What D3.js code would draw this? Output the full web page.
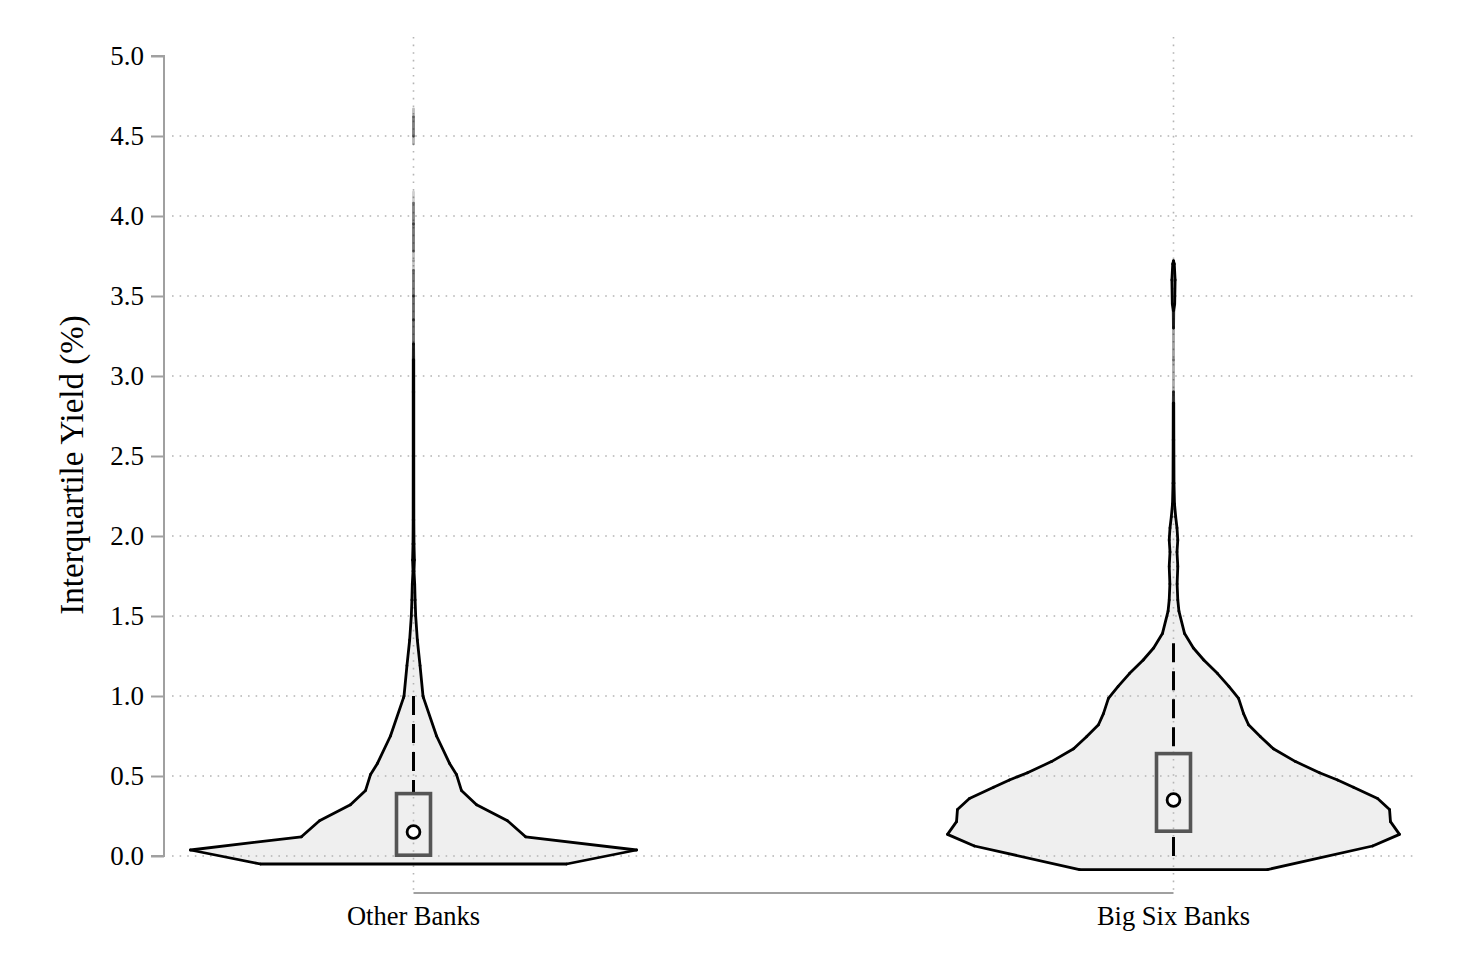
<!DOCTYPE html>
<html>
<head>
<meta charset="utf-8">
<script src="https://cdn.jsdelivr.net/npm/d3@7"></script>
<style>
  body { margin: 0; background: #fff; }
  svg { display: block; font-family: 'Liberation Serif', 'Times New Roman', serif; }
</style>
</head>
<body>
<div id="chart"></div>
<script>
// ---- data ----
const categories = ['Other Banks', 'Big Six Banks'];

// violin outlines: yield level and relative density (1 = widest point)
const otherYield = [-0.05, 0.0375, 0.12, 0.22, 0.32, 0.41, 0.51, 0.58, 0.75, 0.99, 1.0, 1.19, 1.35, 1.5, 1.6, 1.7, 1.78, 1.85, 1.95, 2.1, 2.5, 2.9, 3.1, 3.2, 3.35, 3.5, 3.66, 3.72, 3.78, 3.95, 4.08, 4.15, 4.45, 4.5, 4.62, 4.67];
const otherDensity = [0.677, 0.987, 0.496, 0.416, 0.279, 0.212, 0.190, 0.159, 0.102, 0.044, 0.042, 0.029, 0.017, 0.0097, 0.0071, 0.0053, 0.0022, 0.004, 0.0022, 0.0015, 0.0013, 0.0013, 0.0011, 0.00044, 0.00035, 0.00044, 0.00027, 0, 0.0003, 0.0004, 0.00022, 0, 0, 0.00035, 0.0003, 0];

const bigSixYield = [-0.085, 0.0625, 0.135, 0.215, 0.29, 0.36, 0.43, 0.475, 0.52, 0.59, 0.67, 0.745, 0.82, 0.89, 0.985, 1.06, 1.14, 1.225, 1.3, 1.39, 1.53, 1.6, 1.7, 1.81, 1.9, 1.975, 2.05, 2.12, 2.2, 2.33, 2.6, 2.83, 2.9, 3.1, 3.3, 3.41, 3.45, 3.6, 3.7, 3.72];
const bigSixDensity = [0.416, 0.881, 1.0, 0.960, 0.956, 0.903, 0.796, 0.726, 0.646, 0.540, 0.442, 0.385, 0.332, 0.310, 0.288, 0.245, 0.195, 0.134, 0.088, 0.049, 0.024, 0.019, 0.016, 0.019, 0.0155, 0.019, 0.0155, 0.0097, 0.0044, 0.0022, 0.0015, 0.0011, 0.00022, 0.00018, 0.00027, 0.0013, 0.0053, 0.0071, 0.0035, 0];

// box plot summaries
const q1 = [0.005, 0.155];
const medians = [0.15, 0.35];
const q3 = [0.39, 0.64];
const whiskerLow = [0.0, 0.0];
const whiskerHigh = [1.0, 1.33];

const yTicks = [0, 0.5, 1, 1.5, 2, 2.5, 3, 3.5, 4, 4.5, 5];
const yTitle = 'Interquartile Yield (%)';

// ---- layout ----
const width = 1458, height = 972;
const plot = { left: 172, right: 1418, top: 56, bottom: 856 };
const axisX = 164, axisY = 893;

const svg = d3.select('#chart').append('svg')
  .attr('width', width)
  .attr('height', height);

const y = d3.scaleLinear().domain([0, 5]).range([plot.bottom, plot.top]);
const x = d3.scalePoint().domain(categories).range([413.5, 1173.5]);
const w = d3.scaleLinear().domain([0, 1]).range([0, 226]);

const violins = [
  { name: categories[0], ys: otherYield, ds: otherDensity },
  { name: categories[1], ys: bigSixYield, ds: bigSixDensity }
];

// outline points: up the left side, down the right side
function outline(v) {
  const cx = x(v.name);
  const left = v.ys.map((yy, i) => [cx - w(v.ds[i]), y(yy), v.ds[i]]);
  const right = v.ys.map((yy, i) => [cx + w(v.ds[i]), y(yy), v.ds[i]]).reverse();
  return left.concat(right);
}

// violin fill
svg.append('g').attr('class', 'violin-fill')
  .selectAll('path')
  .data(violins)
  .join('path')
  .attr('d', d => d3.line()(outline(d).map(p => [p[0], p[1]])) + 'Z')
  .attr('fill', '#efefef')
  .attr('stroke', 'none');

// gridlines (dotted, over the fill)
const grid = svg.append('g').attr('class', 'grid')
  .attr('stroke', '#b4b4b4')
  .attr('stroke-width', 1.6)
  .attr('stroke-dasharray', '1.6,6');

grid.selectAll('line.h')
  .data(yTicks.filter(t => t < 5))
  .join('line')
  .attr('class', 'h')
  .attr('x1', plot.left).attr('x2', plot.right)
  .attr('y1', d => y(d)).attr('y2', d => y(d));

grid.selectAll('line.v')
  .data(categories)
  .join('line')
  .attr('class', 'v')
  .attr('x1', d => x(d)).attr('x2', d => x(d))
  .attr('y1', 37).attr('y2', axisY);

// violin outline, drawn segment by segment so the long thin tails fade out
const outlineG = svg.append('g').attr('class', 'violin-outline');
violins.forEach(v => {
  const pts = outline(v);
  const segs = [];
  for (let i = 0; i < pts.length; i++) {
    const a = pts[i], b = pts[(i + 1) % pts.length];
    const dens = (a[2] + b[2]) / 2;
    const op = Math.min(1, w(dens) / 0.25);
    if (op > 0.01) segs.push({ a, b, op });
  }
  outlineG.append('g')
    .selectAll('line')
    .data(segs)
    .join('line')
    .attr('x1', d => d.a[0]).attr('y1', d => d.a[1])
    .attr('x2', d => d.b[0]).attr('y2', d => d.b[1])
    .attr('stroke', '#000')
    .attr('stroke-opacity', d => d.op)
    .attr('stroke-width', 2.8)
    .attr('stroke-linecap', 'round');
});

// box plots
const boxes = categories.map((c, i) => ({
  c, q1: q1[i], med: medians[i], q3: q3[i], lo: whiskerLow[i], hi: whiskerHigh[i]
}));

const boxG = svg.append('g').attr('class', 'boxes');

// whiskers drawn from the end toward the box so dashes start at the tip
boxG.selectAll('line.upper')
  .data(boxes)
  .join('line')
  .attr('class', 'upper')
  .attr('x1', d => x(d.c)).attr('x2', d => x(d.c))
  .attr('y1', d => y(d.hi)).attr('y2', d => y(d.q3))
  .attr('stroke', '#000').attr('stroke-width', 3)
  .attr('stroke-dasharray', '19,9');

boxG.selectAll('line.lower')
  .data(boxes)
  .join('line')
  .attr('class', 'lower')
  .attr('x1', d => x(d.c)).attr('x2', d => x(d.c))
  .attr('y1', d => y(d.lo)).attr('y2', d => y(d.q1))
  .attr('stroke', '#000').attr('stroke-width', 3)
  .attr('stroke-dasharray', '19,9');

boxG.selectAll('rect')
  .data(boxes)
  .join('rect')
  .attr('x', d => x(d.c) - 17)
  .attr('width', 34)
  .attr('y', d => y(d.q3))
  .attr('height', d => y(d.q1) - y(d.q3))
  .attr('fill', 'none')
  .attr('stroke', '#555')
  .attr('stroke-width', 3.6);

boxG.selectAll('circle')
  .data(boxes)
  .join('circle')
  .attr('cx', d => x(d.c))
  .attr('cy', d => y(d.med))
  .attr('r', 6.4)
  .attr('fill', '#fff')
  .attr('stroke', '#000')
  .attr('stroke-width', 2.8);

// y axis
const yAxis = svg.append('g')
  .attr('transform', `translate(${axisX},0)`)
  .call(d3.axisLeft(y).tickValues(yTicks).tickFormat(d3.format('.1f')).tickSize(13).tickPadding(7));
yAxis.select('.domain').attr('stroke', '#a0a0a0').attr('stroke-width', 2)
  .attr('d', `M-13,${y(5)}H0V${y(0)}H-13`);
yAxis.selectAll('.tick line').attr('stroke', '#a0a0a0').attr('stroke-width', 2);
yAxis.selectAll('.tick text')
  .attr('fill', '#000')
  .attr('font-size', 27)
  .attr('font-family', "'Liberation Serif', serif");

// x axis
svg.append('line')
  .attr('x1', x(categories[0])).attr('x2', x(categories[1]))
  .attr('y1', axisY).attr('y2', axisY)
  .attr('stroke', '#a0a0a0').attr('stroke-width', 2);

svg.append('g').selectAll('text')
  .data(categories)
  .join('text')
  .attr('x', d => x(d))
  .attr('y', 925)
  .attr('text-anchor', 'middle')
  .attr('font-size', 26.5)
  .text(d => d);

// axis title
svg.append('text')
  .attr('transform', 'translate(83,465) rotate(-90)')
  .attr('text-anchor', 'middle')
  .attr('font-size', 33)
  .text(yTitle);
</script>
</body>
</html>
